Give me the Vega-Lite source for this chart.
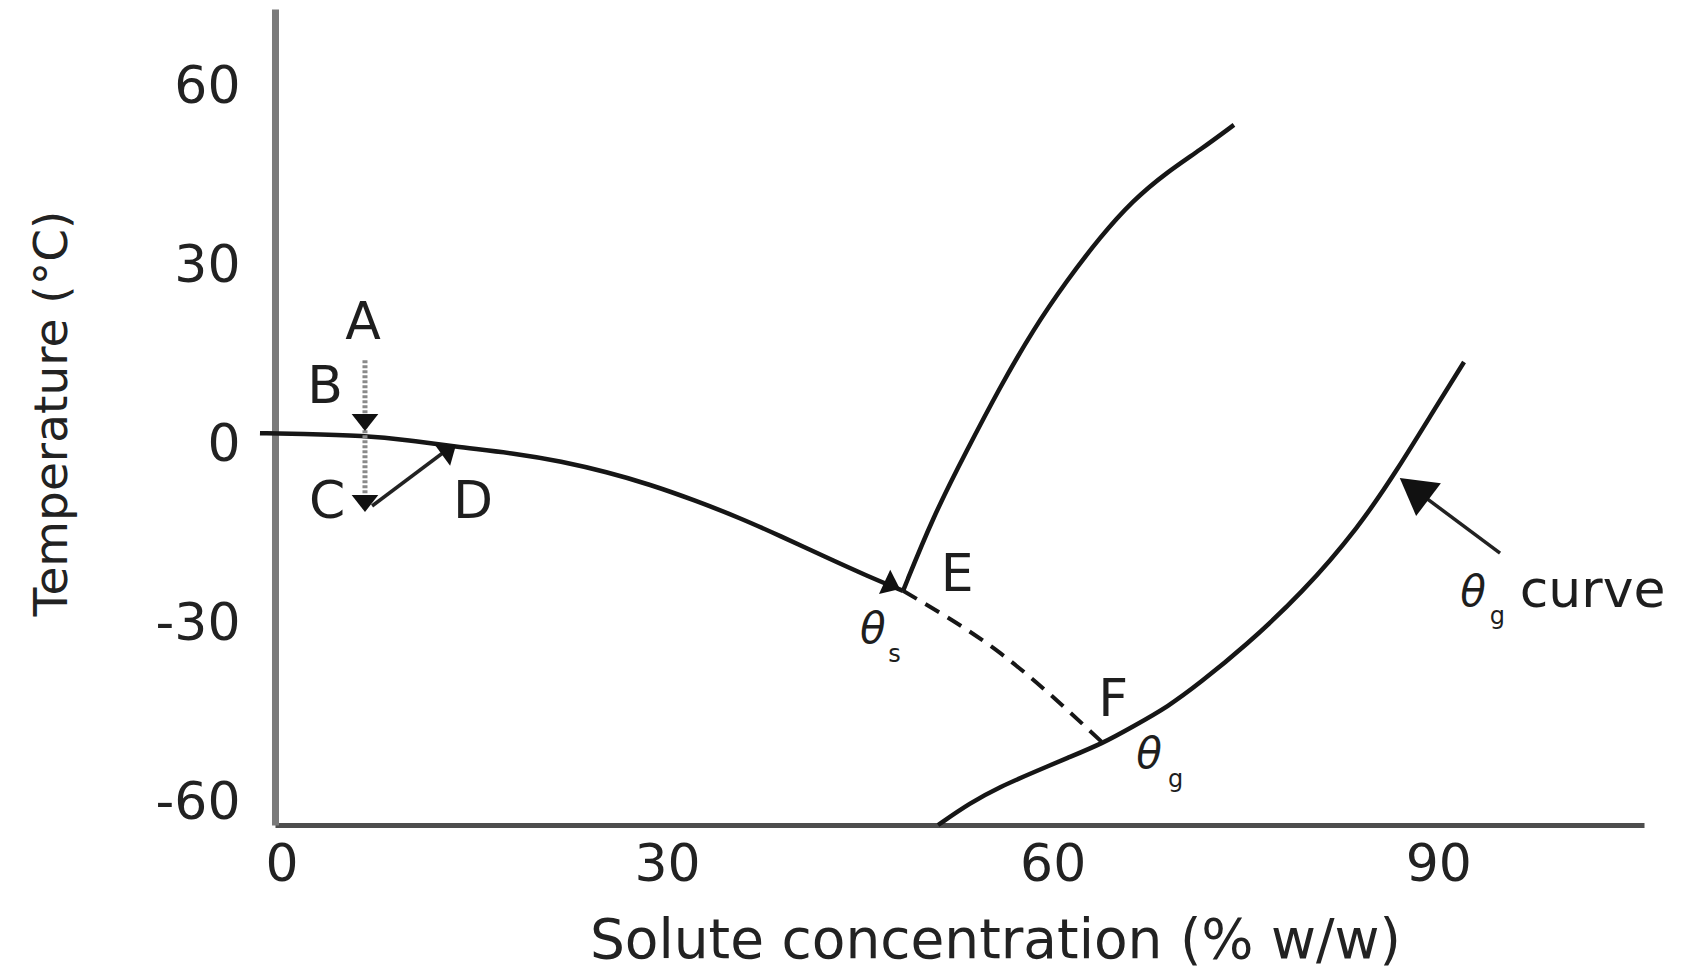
{
  "$schema": "https://vega.github.io/schema/vega-lite/v6.json",
  "width": 1369,
  "height": 816,
  "autosize": {"type": "none"},
  "padding": {"left": 275, "top": 9, "right": 46, "bottom": 148},
  "background": "white",
  "config": {"view": {"stroke": null}, "font": "DejaVu Sans"},
  "datasets": {
    "curves": [
      {"curve": "freezing", "x": -1.67, "y": 1.9},
      {"curve": "freezing", "x": 1.45, "y": 1.8},
      {"curve": "freezing", "x": 6.42, "y": 1.5},
      {"curve": "freezing", "x": 10.0, "y": 0.7},
      {"curve": "freezing", "x": 13.19, "y": -0.3},
      {"curve": "freezing", "x": 18.56, "y": -1.6},
      {"curve": "freezing", "x": 21.67, "y": -2.8},
      {"curve": "freezing", "x": 25.33, "y": -4.6},
      {"curve": "freezing", "x": 28.67, "y": -6.7},
      {"curve": "freezing", "x": 32.1, "y": -9.3},
      {"curve": "freezing", "x": 35.68, "y": -12.3},
      {"curve": "freezing", "x": 38.79, "y": -15.3},
      {"curve": "freezing", "x": 42.3, "y": -18.8},
      {"curve": "freezing", "x": 45.56, "y": -22.0},
      {"curve": "freezing", "x": 48.36, "y": -24.5},
      {"curve": "solubility", "x": 48.36, "y": -24.5},
      {"curve": "solubility", "x": 50.69, "y": -12.1},
      {"curve": "solubility", "x": 53.34, "y": -0.9},
      {"curve": "solubility", "x": 55.9, "y": 9.6},
      {"curve": "solubility", "x": 58.47, "y": 19.2},
      {"curve": "solubility", "x": 61.12, "y": 27.5},
      {"curve": "solubility", "x": 63.68, "y": 34.7},
      {"curve": "solubility", "x": 66.25, "y": 40.9},
      {"curve": "solubility", "x": 68.9, "y": 45.6},
      {"curve": "solubility", "x": 71.46, "y": 49.3},
      {"curve": "solubility", "x": 74.1, "y": 53.5},
      {"curve": "glass", "x": 51.08, "y": -63.7},
      {"curve": "glass", "x": 53.57, "y": -60.0},
      {"curve": "glass", "x": 55.9, "y": -57.3},
      {"curve": "glass", "x": 58.6, "y": -54.8},
      {"curve": "glass", "x": 61.12, "y": -52.5},
      {"curve": "glass", "x": 63.92, "y": -50.0},
      {"curve": "glass", "x": 66.25, "y": -47.2},
      {"curve": "glass", "x": 68.97, "y": -43.9},
      {"curve": "glass", "x": 71.46, "y": -39.9},
      {"curve": "glass", "x": 74.9, "y": -33.9},
      {"curve": "glass", "x": 79.4, "y": -24.9},
      {"curve": "glass", "x": 83.83, "y": -13.8},
      {"curve": "glass", "x": 86.79, "y": -4.3},
      {"curve": "glass", "x": 89.82, "y": 6.3},
      {"curve": "glass", "x": 92.0, "y": 13.8}
    ],
    "dashed": [
      {"x": 48.36, "y": -24.5},
      {"x": 55.9, "y": -34.9},
      {"x": 63.92, "y": -50.0}
    ],
    "dotted": [
      {"x": 6.5, "y": 14.1},
      {"x": 6.5, "y": -11.0}
    ],
    "guides": [
      {"seg": "CD", "x": 7.05, "y": -10.3},
      {"seg": "CD", "x": 12.65, "y": -1.26},
      {"seg": "G", "x": 88.2, "y": -7.6},
      {"seg": "G", "x": 94.8, "y": -18.2}
    ],
    "arrows": [
      {"arrow": "B", "x": 6.5, "y": 2.26},
      {"arrow": "C", "x": 6.5, "y": -11.3},
      {"arrow": "D", "x": 13.58, "y": -0.08},
      {"arrow": "E", "x": 48.12, "y": -24.2},
      {"arrow": "G", "x": 87.0, "y": -5.6}
    ],
    "labels": [
      {"text": "A", "x": 6.35, "y": 20.3},
      {"text": "B", "x": 3.39, "y": 9.6},
      {"text": "C", "x": 3.55, "y": -9.6},
      {"text": "D", "x": 14.9, "y": -9.6},
      {"text": "E", "x": 52.56, "y": -21.8},
      {"text": "F", "x": 64.7, "y": -42.8},
      {"text": "curve", "x": 102.0, "y": -24.5}
    ],
    "thetas": [
      {"text": "θ", "x": 46.0, "y": -31.0},
      {"text": "θ", "x": 67.5, "y": -52.0},
      {"text": "θ", "x": 92.7, "y": -24.8}
    ],
    "subs": [
      {"text": "s", "x": 47.7, "y": -35.2},
      {"text": "g", "x": 69.56, "y": -56.2},
      {"text": "g", "x": 94.6, "y": -28.9}
    ]
  },
  "encoding": {
    "x": {
      "field": "x",
      "type": "quantitative",
      "scale": {"domain": [-0.5, 106], "nice": false, "zero": false},
      "axis": {
        "values": [0, 30, 60, 90],
        "ticks": false,
        "grid": false,
        "domainColor": "#4d4d4d",
        "domainWidth": 5,
        "labelFont": "DejaVu Sans",
        "labelFontSize": 52,
        "labelColor": "#222222",
        "labelPadding": 14,
        "labelFlush": false,
        "labelOverlap": false,
        "title": "Solute concentration (% w/w)",
        "titleFont": "DejaVu Sans",
        "titleFontSize": 55,
        "titleFontWeight": "normal",
        "titleColor": "#222222",
        "titleX": 720,
        "titleY": 132,
        "titleAlign": "center",
        "titleBaseline": "alphabetic"
      }
    },
    "y": {
      "field": "y",
      "type": "quantitative",
      "scale": {"domain": [-63.7, 72.9], "nice": false, "zero": false},
      "axis": {
        "values": [-60, -30, 0, 30, 60],
        "labelExpr": "'' + datum.value",
        "ticks": false,
        "grid": false,
        "domainColor": "#7a7a7a",
        "domainWidth": 7,
        "labelFont": "DejaVu Sans",
        "labelFontSize": 52,
        "labelColor": "#222222",
        "labelPadding": 35,
        "labelFlush": false,
        "labelOverlap": false,
        "title": "Temperature (°C)",
        "titleFont": "DejaVu Sans",
        "titleFontSize": 47,
        "titleFontWeight": "normal",
        "titleColor": "#222222",
        "titleAngle": -90,
        "titleX": -209,
        "titleY": 404,
        "titleAlign": "center",
        "titleBaseline": "alphabetic"
      }
    }
  },
  "layer": [
    {
      "data": {"name": "curves"},
      "mark": {"type": "line", "color": "#161616", "strokeWidth": 4.5, "interpolate": "basis"},
      "encoding": {"detail": {"field": "curve"}}
    },
    {
      "data": {"name": "dashed"},
      "mark": {"type": "line", "color": "#161616", "strokeWidth": 4, "strokeDash": [16, 10], "interpolate": "monotone"},
      "encoding": {}
    },
    {
      "data": {"name": "dotted"},
      "mark": {"type": "line", "color": "#8a8a8a", "strokeWidth": 5, "strokeDash": [3, 2]},
      "encoding": {}
    },
    {
      "data": {"name": "guides"},
      "mark": {"type": "line", "color": "#222222", "strokeWidth": 3.5},
      "encoding": {"detail": {"field": "seg"}}
    },
    {
      "data": {"name": "arrows"},
      "transform": [{"filter": "datum.arrow === 'B' || datum.arrow === 'C'"}],
      "mark": {"type": "point", "shape": "M0,0L-1.1,1.4L1.1,1.4Z", "filled": true, "color": "#111111", "opacity": 1, "size": 588, "angle": 180}
    },
    {
      "data": {"name": "arrows"},
      "transform": [{"filter": "datum.arrow === 'D'"}],
      "mark": {"type": "point", "shape": "M0,0L-1.1,1.4L1.1,1.4Z", "filled": true, "color": "#111111", "opacity": 1, "size": 588, "angle": 54}
    },
    {
      "data": {"name": "arrows"},
      "transform": [{"filter": "datum.arrow === 'E'"}],
      "mark": {"type": "point", "shape": "M0,0L-1.1,1.4L1.1,1.4Z", "filled": true, "color": "#111111", "opacity": 1, "size": 588, "angle": 115}
    },
    {
      "data": {"name": "arrows"},
      "transform": [{"filter": "datum.arrow === 'G'"}],
      "mark": {"type": "point", "shape": "M0,0L-0.8,1.4L0.8,1.4Z", "filled": true, "color": "#111111", "opacity": 1, "size": 2645, "angle": -53}
    },
    {
      "data": {"name": "labels"},
      "mark": {"type": "text", "font": "DejaVu Sans", "fontSize": 52, "color": "#1e1e1e", "align": "center", "baseline": "middle"},
      "encoding": {"text": {"field": "text"}}
    },
    {
      "data": {"name": "thetas"},
      "mark": {"type": "text", "font": "DejaVu Sans", "fontStyle": "italic", "fontSize": 42, "color": "#1e1e1e", "align": "center", "baseline": "middle"},
      "encoding": {"text": {"field": "text"}}
    },
    {
      "data": {"name": "subs"},
      "mark": {"type": "text", "font": "DejaVu Sans", "fontSize": 24, "color": "#1e1e1e", "align": "center", "baseline": "middle"},
      "encoding": {"text": {"field": "text"}}
    }
  ]
}
